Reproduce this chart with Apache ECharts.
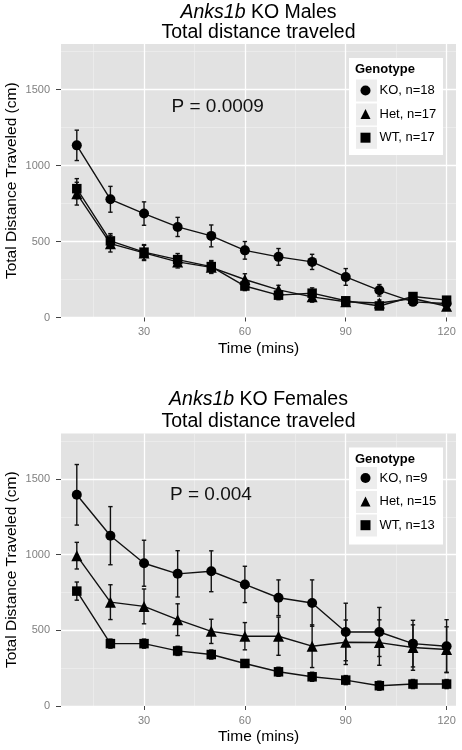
<!DOCTYPE html>
<html><head><meta charset="utf-8">
<script src="https://cdn.jsdelivr.net/npm/echarts@6/dist/echarts.min.js"></script>
<style>html,body{margin:0;padding:0;background:#fff}#c{width:462px;height:750px}</style>
</head><body><div id="c"></div>
<script>
// ---- data ----
const time = [10,20,30,40,50,60,70,80,90,100,110,120];
const xTicks = [30,60,90,120];
const xMinor = [15,45,75,105];
const yTicks = [0,500,1000,1500];
const yMinor = [250,750,1250,1750];

const maleNames = ['KO, n=18','Het, n=17','WT, n=17'];
const maleKO    = [1133,778,684,596,537,442,399,366,267,179,103,92];
const maleKOse  = [100,85,77,63,72,58,55,50,55,38,22,20];
const maleHet   = [815,486,425,366,330,250,182,136,104,95,125,74];
const maleHetSe = [75,55,50,40,40,38,30,35,20,20,20,15];
const maleWT    = [848,504,430,381,335,207,147,160,110,76,138,114];
const maleWTse  = [66,48,50,40,40,30,30,35,20,18,20,15];

const femNames = ['KO, n=9','Het, n=15','WT, n=13'];
const femKO    = [1395,1125,943,873,890,803,715,680,489,489,412,395];
const femKOse  = [200,192,152,153,135,120,118,153,190,162,154,175];
const femHet   = [993,686,658,570,493,461,461,395,421,419,386,373];
const femHetSe = [88,115,115,105,80,90,126,141,147,150,150,150];
const femWT    = [759,412,412,364,340,281,226,193,171,134,145,145];
const femWTse  = [60,30,30,30,30,25,30,30,30,30,30,30];

const F = 'Liberation Sans, Arial, Helvetica, sans-serif';

// ---- helpers ----
function errRender(params, api){
  const x = api.value(0), lo = api.value(1), hi = api.value(2);
  const t = api.coord([x, hi]), b = api.coord([x, lo]);
  const w = 2.2, st = {stroke:'#111', lineWidth:1.4};
  return {type:'group', children:[
    {type:'line', shape:{x1:t[0],y1:t[1],x2:b[0],y2:b[1]}, style:st},
    {type:'line', shape:{x1:t[0]-w,y1:t[1],x2:t[0]+w,y2:t[1]}, style:st},
    {type:'line', shape:{x1:b[0]-w,y1:b[1],x2:b[0]+w,y2:b[1]}, style:st}
  ]};
}
function xMain(gi){
  return {type:'value', gridIndex:gi, min:5.3, max:122.8, z:2,
    axisLine:{show:false},
    axisTick:{show:true, customValues:xTicks, length:4, lineStyle:{color:'#444', width:1}},
    axisLabel:{customValues:xTicks, color:'#7f7f7f', fontSize:11, margin:9, fontFamily:F, formatter:v=>String(v)},
    splitLine:{show:true, lineStyle:{color:'#ffffff', width:1.3}},
    name:'Time (mins)', nameLocation:'middle', nameGap:23, nameMoveOverlap:false,
    nameTextStyle:{color:'#000', fontSize:15.5, fontFamily:F}};
}
function xMin(gi){
  return {type:'value', gridIndex:gi, min:5.3, max:122.8, z:1, position:'bottom',
    axisLine:{show:false},
    axisTick:{show:false, customValues:xMinor},
    axisLabel:{show:false, customValues:xMinor},
    splitLine:{show:true, lineStyle:{color:'#efefef', width:0.7}}};
}
function yMain(gi){
  return {type:'value', gridIndex:gi, min:0, max:1800, z:2, position:'left',
    axisLine:{show:false},
    axisTick:{show:true, customValues:yTicks, length:5, lineStyle:{color:'#444', width:1}},
    axisLabel:{customValues:yTicks, color:'#7f7f7f', fontSize:11, margin:11, fontFamily:F, formatter:v=>String(v)},
    splitLine:{show:true, lineStyle:{color:'#ffffff', width:1.3}},
    name:'Total Distance Traveled (cm)', nameLocation:'middle', nameGap:41, nameMoveOverlap:false,
    nameTextStyle:{color:'#000', fontSize:15.5, fontFamily:F}};
}
function yMin(gi){
  return {type:'value', gridIndex:gi, min:0, max:1800, z:1, position:'left',
    axisLine:{show:false},
    axisTick:{show:false, customValues:yMinor},
    axisLabel:{show:false, customValues:yMinor},
    splitLine:{show:true, lineStyle:{color:'#efefef', width:0.7}}};
}
const symbols = ['circle','triangle','rect'];
const sizes = [10,11,9.5];
function seriesFor(names, means, ses, axisIdx){
  const out = [];
  for (let k=0;k<3;k++){
    out.push({type:'custom', name:names[k]+' err', xAxisIndex:axisIdx, yAxisIndex:axisIdx, z:4,
      renderItem:errRender, encode:{x:0, y:[1,2]},
      data: time.map((t,i)=>[t, means[k][i]-ses[k][i], means[k][i]+ses[k][i]])});
  }
  for (let k=0;k<3;k++){
    out.push({type:'line', name:names[k], xAxisIndex:axisIdx, yAxisIndex:axisIdx, z:5,
      symbol:symbols[k], symbolSize:sizes[k], showSymbol:true,
      lineStyle:{color:'#111', width:1.4}, itemStyle:{color:'#000'},
      data: time.map((t,i)=>[t, means[k][i]])});
  }
  return out;
}
function legendFor(names, top){
  return {orient:'vertical', left:360.5, top:top, padding:0, itemGap:9.6, z:10,
    itemWidth:10, itemHeight:10, selectedMode:false,
    textStyle:{color:'#000', fontSize:13, fontFamily:F, lineHeight:14, padding:[0,0,0,4]},
    data: names.map((n,k)=>({name:n, icon:symbols[k], itemStyle:{color:'#000'}}))};
}
function legendBox(gridTop, centers){
  const els = [{type:'rect', z:5, shape:{x:349, y:gridTop+14, width:94, height:97}, style:{fill:'#ffffff'}},
    {type:'text', z:6, style:{x:355, y:gridTop+25.5, text:'Genotype', fontWeight:'bold', fontSize:13, fontFamily:F, fill:'#000', verticalAlign:'middle'}}];
  centers.forEach(c=>els.push({type:'rect', z:6, shape:{x:356, y:gridTop+c-11, width:21, height:22}, style:{fill:'#ededed'}}));
  return els;
}

const g0 = 44, g1 = 433.5;
const chart = echarts.init(document.getElementById('c'), null, {renderer:'canvas'});
chart.setOption({
  animation:false,
  backgroundColor:'#ffffff',
  grid:[
    {left:61, top:g0, width:395, height:273.5, show:true, backgroundColor:'#e2e2e2', borderWidth:0, z:0, containLabel:false, outerBoundsMode:'none'},
    {left:61, top:g1, width:395, height:272.5, show:true, backgroundColor:'#e2e2e2', borderWidth:0, z:0, containLabel:false, outerBoundsMode:'none'}
  ],
  xAxis:[xMain(0), xMin(0), xMain(1), xMin(1)],
  yAxis:[yMain(0), yMin(0), yMain(1), yMin(1)],
  legend:[legendFor(maleNames, g0+39.5), legendFor(femNames, g1+37.5)],
  graphic:[].concat(
    legendBox(g0, [46.5,70.5,93.8]),
    legendBox(g1, [44.5,68.5,92]),
    [
      {type:'text', z:6, style:{x:258.5, y:12.5, text:'{i|Anks1b} KO Males', align:'center', verticalAlign:'middle', fontSize:19.5, fontFamily:F, fill:'#000', rich:{i:{fontStyle:'italic', fontSize:19.5, fontFamily:F, fill:'#000'}}}},
      {type:'text', z:6, style:{x:258.5, y:32.5, text:'Total distance traveled', align:'center', verticalAlign:'middle', fontSize:19.5, fontFamily:F, fill:'#000'}},
      {type:'text', z:6, style:{x:258.5, y:400, text:'{i|Anks1b} KO Females', align:'center', verticalAlign:'middle', fontSize:19.5, fontFamily:F, fill:'#000', rich:{i:{fontStyle:'italic', fontSize:19.5, fontFamily:F, fill:'#000'}}}},
      {type:'text', z:6, style:{x:258.5, y:421.5, text:'Total distance traveled', align:'center', verticalAlign:'middle', fontSize:19.5, fontFamily:F, fill:'#000'}},
      {type:'text', z:6, style:{x:171.5, y:g0+62.7, text:'P = 0.0009', verticalAlign:'middle', fontSize:19, fontFamily:F, fill:'#111'}},
      {type:'text', z:6, style:{x:170, y:g1+61.5, text:'P = 0.004', verticalAlign:'middle', fontSize:19, fontFamily:F, fill:'#111'}}
    ]),
  series:[].concat(
    seriesFor(maleNames, [maleKO,maleHet,maleWT], [maleKOse,maleHetSe,maleWTse], 0),
    seriesFor(femNames, [femKO,femHet,femWT], [femKOse,femHetSe,femWTse], 2)
  )
});
</script></body></html>
